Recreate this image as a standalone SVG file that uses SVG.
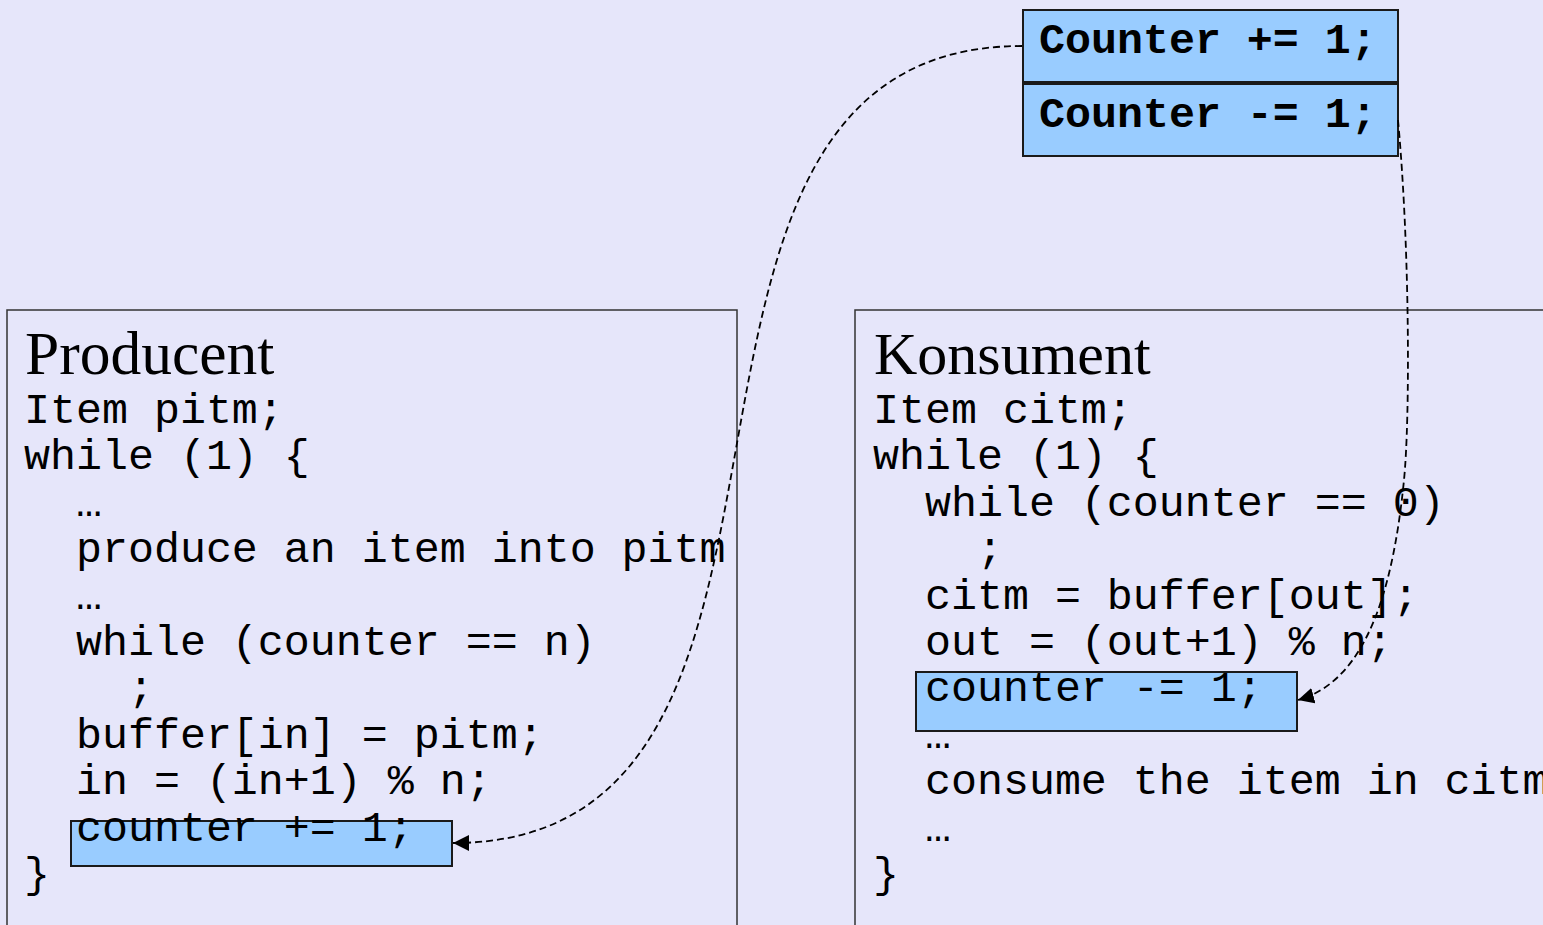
<svg xmlns="http://www.w3.org/2000/svg" width="1543" height="925" viewBox="0 0 1543 925">
<style>
.panel{fill:#e6e6fa;stroke:#333;stroke-width:1.5}
.hl{fill:#99ccff;stroke:#1a1a1a;stroke-width:2}
.title{font-family:"Liberation Serif","Times New Roman",serif;font-size:60px;fill:#000}
.code{font-family:"Liberation Mono","Courier New",monospace;font-size:43.3px;fill:#000;white-space:pre}
.bold{font-family:"Liberation Mono","Courier New",monospace;font-size:43.3px;font-weight:bold;fill:#000;white-space:pre}
.conn{fill:none;stroke:#000;stroke-width:1.8;stroke-dasharray:7 4}
</style>
<defs>
<marker id="arrow" markerUnits="userSpaceOnUse" markerWidth="18" markerHeight="16" refX="16" refY="8" orient="auto">
<path d="M0,0 L16,8 L0,16 Z" fill="#000"/>
</marker>
</defs>
<rect x="0" y="0" width="1543" height="925" fill="#e6e6fa"/>

<g id="producent">
<rect class="panel" x="7" y="310" width="730" height="640"/>
<text class="title" x="25" y="374" style="font-size:61.5px">Producent</text>
<rect class="hl" x="71" y="821" width="381" height="45"/>
<text class="code" x="24" y="423">Item pitm;</text>
<text class="code" x="24" y="469.4">while (1) {</text>
<text class="code" x="24" y="515.8">  …</text>
<text class="code" x="24" y="562.2">  produce an item into pitm</text>
<text class="code" x="24" y="608.6">  …</text>
<text class="code" x="24" y="655">  while (counter == n)</text>
<text class="code" x="24" y="701.4">    ;</text>
<text class="code" x="24" y="747.8">  buffer[in] = pitm;</text>
<text class="code" x="24" y="794.2">  in = (in+1) % n;</text>
<text class="code" x="24" y="840.6">  counter += 1;</text>
<text class="code" x="24" y="887">}</text>
</g>

<g id="konsument">
<rect class="panel" x="855" y="310" width="720" height="640"/>
<text class="title" x="874" y="374">Konsument</text>
<rect class="hl" x="916" y="672" width="381" height="59"/>
<text class="code" x="873" y="423">Item citm;</text>
<text class="code" x="873" y="469.4">while (1) {</text>
<text class="code" x="873" y="515.8">  while (counter == 0)</text>
<text class="code" x="873" y="562.2">    ;</text>
<text class="code" x="873" y="608.6">  citm = buffer[out];</text>
<text class="code" x="873" y="655">  out = (out+1) % n;</text>
<text class="code" x="873" y="701.4">  counter -= 1;</text>
<text class="code" x="873" y="747.8">  …</text>
<text class="code" x="873" y="794.2">  consume the item in citm</text>
<text class="code" x="873" y="840.6">  …</text>
<text class="code" x="873" y="887">}</text>
</g>

<g id="counter-inc">
<rect class="hl" x="1023" y="10" width="375" height="72" stroke-width="1.5"/>
<text class="bold" x="1039" y="53">Counter += 1;</text>
</g>

<g id="counter-dec">
<rect class="hl" x="1023" y="84" width="375" height="72" stroke-width="1.5"/>
<text class="bold" x="1039" y="127">Counter -= 1;</text>
</g>

<g id="connectors">
<path class="conn" d="M1022,46 C595,46 878,843 453,843" marker-end="url(#arrow)"/>
<path class="conn" d="M1398,120 C1410,250 1410,420 1404,480 C1394,580 1370,680 1298,700" marker-end="url(#arrow)"/>
</g>
</svg>
